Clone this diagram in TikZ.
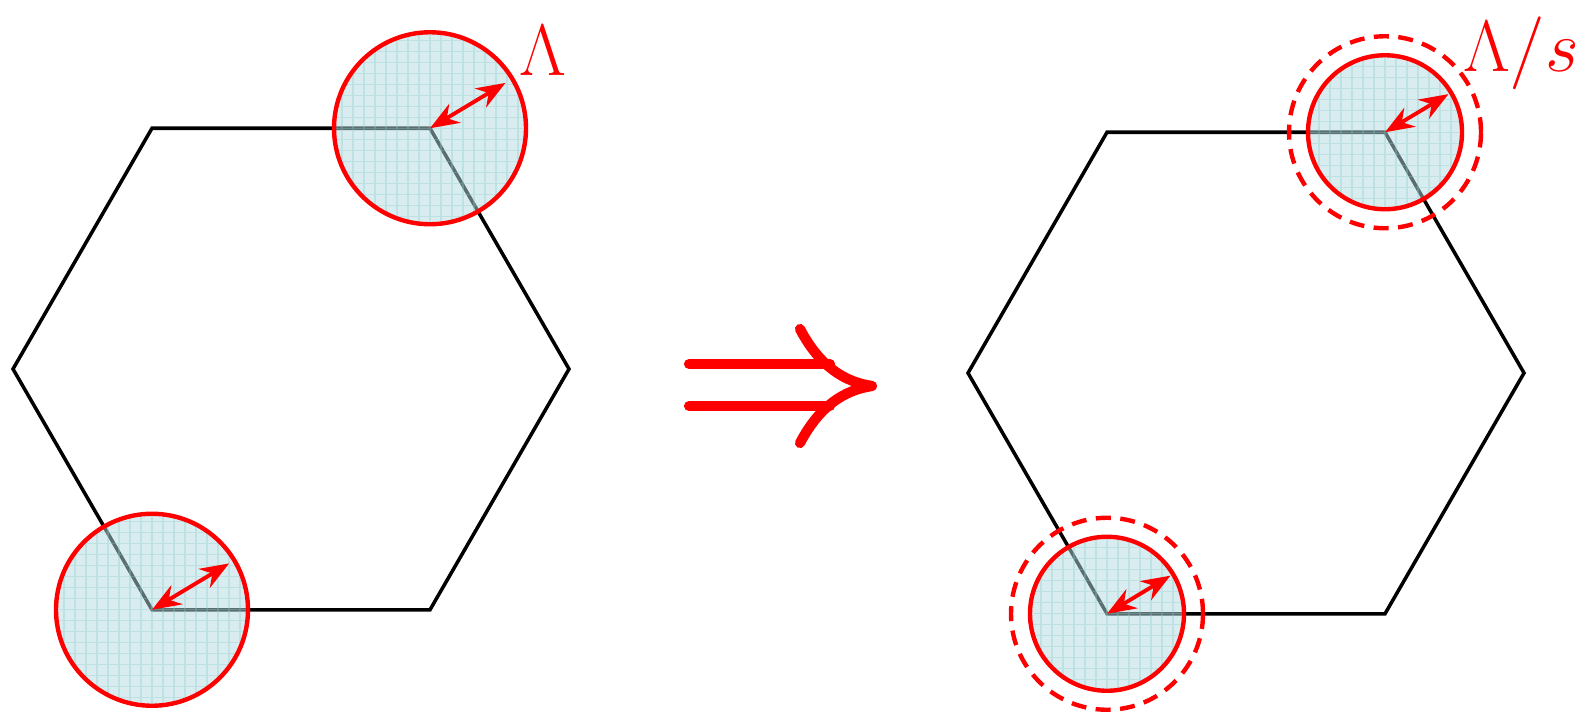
\documentclass[tikz,border=0pt]{standalone}
\usetikzlibrary{arrows.meta}
\definecolor{diskfill}{HTML}{B4DADF}
\definecolor{diskgrid}{HTML}{8CCBD0}
% shaded cut-off disk with a fine grid
\newcommand{\cutdisk}[2]{%
  \begin{scope}
    \clip (#1) circle (#2);
    \fill[diskfill, opacity=0.5] (#1) circle (#2);
    \draw[diskgrid, opacity=0.35, line width=0.3pt, shift={(#1)}] (-1.1,-1.1) grid[step=0.11] (1.1,1.1);
  \end{scope}}

\begin{document}
\begin{tikzpicture}[
    hexedge/.style={draw=black, line width=1pt, line join=miter},
    cutoff/.style={draw=red, line width=1.25pt},
    cutoffdash/.style={draw=red, line width=1.25pt, dash pattern=on 1.5mm off 0.95mm},
    radarrow/.style={{Stealth[length=2.9mm,width=2.2mm]}-{Stealth[length=2.9mm,width=2.2mm]}, red, line width=1.1pt},
    implies/.style={red, line width=2.9pt, line cap=round, line join=round},
    lbl/.style={text=red, font=\fontsize{20}{24}\selectfont, inner sep=0pt}
]
\useasboundingbox (0,0) rectangle (15.88,7.12);

% Left hexagon
\coordinate (Lc) at (2.91,3.43);
\foreach \i in {0,...,5} \coordinate (L\i) at ([shift={(\i*60:2.78)}]Lc);
\draw[hexedge] (L0) -- (L1) -- (L2) -- (L3) -- (L4) -- (L5) -- cycle;

\cutdisk{L1}{0.96}
\cutdisk{L4}{0.96}
\draw[cutoff] (L1) circle (0.96);
\draw[cutoff] (L4) circle (0.96);
\draw[radarrow] (L1) -- ++(31:0.88);
\draw[radarrow] (L4) -- ++(31:0.9);
\node[lbl] (lamL) at (5.43,6.61) {$\Lambda$};

% Implication
\draw[implies] (6.89,3.48) -- (8.30,3.48);
\draw[implies] (6.89,3.06) -- (8.30,3.06);
\draw[implies] (8.00,3.83) .. controls (8.20,3.45) and (8.45,3.30) .. (8.72,3.26)
               .. controls (8.45,3.22) and (8.20,3.07) .. (8.00,2.69);

% Right hexagon
\coordinate (Rc) at (12.46,3.39);
\foreach \i in {0,...,5} \coordinate (R\i) at ([shift={(\i*60:2.78)}]Rc);
\draw[hexedge] (R0) -- (R1) -- (R2) -- (R3) -- (R4) -- (R5) -- cycle;

\cutdisk{R1}{0.77}
\cutdisk{R4}{0.77}
\draw[cutoff] (R1) circle (0.77);
\draw[cutoff] (R4) circle (0.77);
\draw[cutoffdash] (R1) circle (0.96);
\draw[cutoffdash] (R4) circle (0.96);
\draw[radarrow] (R1) -- ++(31:0.74);
\draw[radarrow] (R4) -- ++(31:0.74);
\node[lbl] (lamR) at (15.21,6.59) {$\Lambda/s$};
\end{tikzpicture}
\end{document}
